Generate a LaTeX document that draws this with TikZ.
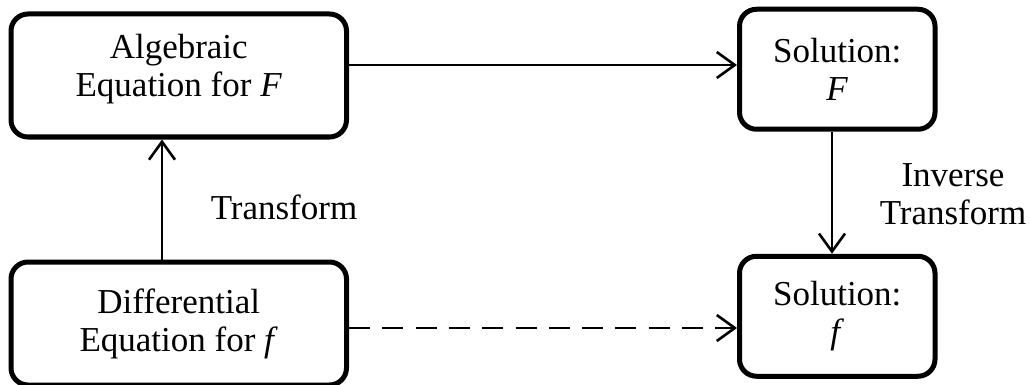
\documentclass[tikz,border=0pt]{standalone}
\usepackage{fontspec}
\setmainfont{Liberation Serif}
\usetikzlibrary{arrows.meta}

\begin{document}
\begin{tikzpicture}[x=1pt,y=-1pt,
  stagebox/.style={draw, line width=5pt, rounded corners=17pt,
    align=center, inner sep=0pt,
    font=\fontsize{35}{38}\selectfont},
  widebox/.style={stagebox, minimum width=335.5pt, minimum height=123pt},
  narrowbox/.style={stagebox, minimum width=195.5pt, minimum height=120pt},
  flow/.style={line width=2.6pt,
    -{Straight Barb[length=18pt,width=26pt,line width=2.6pt]}},
  lbl/.style={align=center, inner sep=0pt, font=\fontsize{35}{38}\selectfont}]

\useasboundingbox (0,0) rectangle (1030,385);

% the four stages
\node[widebox]   (alg)  at (178.75,75.5)  {};
\node[lbl]       (algtxt) at ([yshift=6pt]alg.center) {Algebraic\\Equation for \textit{F}};
\node[widebox]   (dif)  at (178.75,323.5) {Differential\\Equation for \textit{f}};
\node[narrowbox] (solF) at (837.25,69.25) {Solution:\\\textit{F}};
\node[narrowbox] (solf) at (837.25,316.25){Solution:\\\textit{f}};

% connectors
\coordinate (vx) at (162,0);
\draw[flow] (dif.north -| vx) -- (alg.south -| vx);
\draw[flow] (alg.east |- 0,65) -- (solF.west |- 0,65);
\draw[flow] (solF.south -| 832,0) -- (solf.north -| 832,0);
\draw[flow, dash pattern=on 21pt off 12.3pt] (dif.east |- 0,328) -- (solf.west |- 0,328);

% transform labels
\node[lbl] (tr)  at (284,207) {Transform};
\node[lbl] (inv) at (953,194) {Inverse\\Transform};

\end{tikzpicture}
\end{document}
